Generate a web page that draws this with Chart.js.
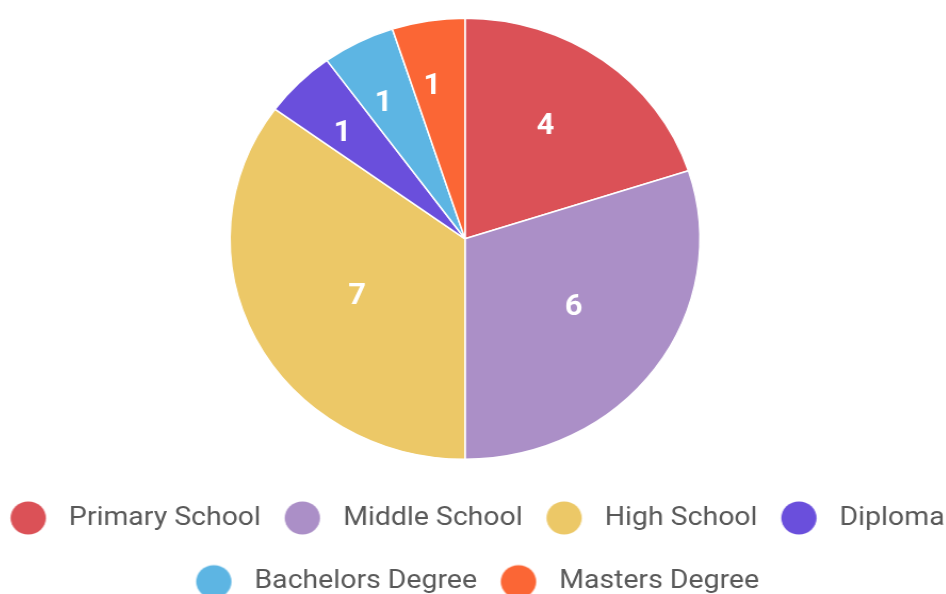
<!DOCTYPE html>
<html>
<head>
<meta charset="utf-8">
<script src="https://cdn.jsdelivr.net/npm/chart.js@4.4.1/dist/chart.umd.min.js"></script>
<style>
  html, body { margin: 0; padding: 0; background: #ffffff; overflow: hidden; width: 946px; height: 594px; }
  #wrap { position: absolute; left: -26px; top: 0; transform: scaleX(1.0655); transform-origin: 0 0; }
  canvas { display: block; }
</style>
</head>
<body>
<div id="wrap"><canvas id="c" width="960" height="605" style="width:960px;height:605px"></canvas></div>
<script>
// ---- data ----
const categories = ['Primary School', 'Middle School', 'High School', 'Diploma', 'Bachelors Degree', 'Masters Degree'];
const values = [4, 6, 7, 1, 1, 1];
const colors = ['#db5157', '#ab8fc7', '#ecc867', '#6a4fdc', '#5db5e3', '#fb6635'];

// legend swatches (circle, offset inside a transparent image)
function swatch(color) {
  const c = document.createElement('canvas');
  c.width = 60; c.height = 36;
  const g = c.getContext('2d');
  g.fillStyle = color;
  g.beginPath();
  g.arc(30 - 11.5, 18, 16.6, 0, Math.PI * 2);
  g.fill();
  return c;
}
const swatches = colors.map(swatch);

const shiftPlugin = {
  id: 'shiftArea',
  afterLayout(chart) {
    const a = chart.chartArea;
    a.right -= 38.4;
    a.width = a.right - a.left;
  }
};

const labelPlugin = {
  id: 'sliceLabels',
  afterDatasetsDraw(chart) {
    const ctx = chart.ctx;
    const meta = chart.getDatasetMeta(0);
    ctx.save();
    ctx.fillStyle = '#ffffff';
    ctx.font = 'bold 29px Roboto';
    ctx.textAlign = 'center';
    ctx.textBaseline = 'middle';
    meta.data.forEach((arc, i) => {
      const p = arc.getProps(['x', 'y', 'startAngle', 'endAngle', 'outerRadius'], true);
      const span = p.endAngle - p.startAngle;
      const mid = (p.startAngle + p.endAngle) / 2 - 0.04;
      const f = 0.74 - 0.0017 * (span * 180 / Math.PI);
      const r = p.outerRadius * f;
      ctx.fillText(String(chart.data.datasets[0].data[i]), p.x + Math.cos(mid) * r, p.y + Math.sin(mid) * r + 1);
    });
    ctx.restore();
  }
};

new Chart(document.getElementById('c'), {
  type: 'pie',
  data: {
    labels: categories,
    datasets: [{
      data: values,
      backgroundColor: colors,
      borderColor: '#ffffff',
      borderWidth: 1.5,
      radius: 220.5
    }]
  },
  options: {
    responsive: false,
    devicePixelRatio: 1,
    animation: false,
    layout: { padding: { top: 10, left: 0, right: 0, bottom: 0 } },
    plugins: {
      tooltip: { enabled: false },
      legend: {
        position: 'bottom',
        labels: {
          usePointStyle: true,
          padding: 37,
          color: '#595959',
          font: { family: 'Roboto', size: 26.7 },
          generateLabels(chart) {
            return chart.data.labels.map((label, i) => ({
              text: label,
              fillStyle: colors[i],
              strokeStyle: colors[i],
              lineWidth: 0,
              pointStyle: swatches[i],
              fontColor: '#595959',
              hidden: false,
              index: i
            }));
          }
        }
      }
    }
  },
  plugins: [shiftPlugin, labelPlugin]
});
</script>
</body>
</html>
